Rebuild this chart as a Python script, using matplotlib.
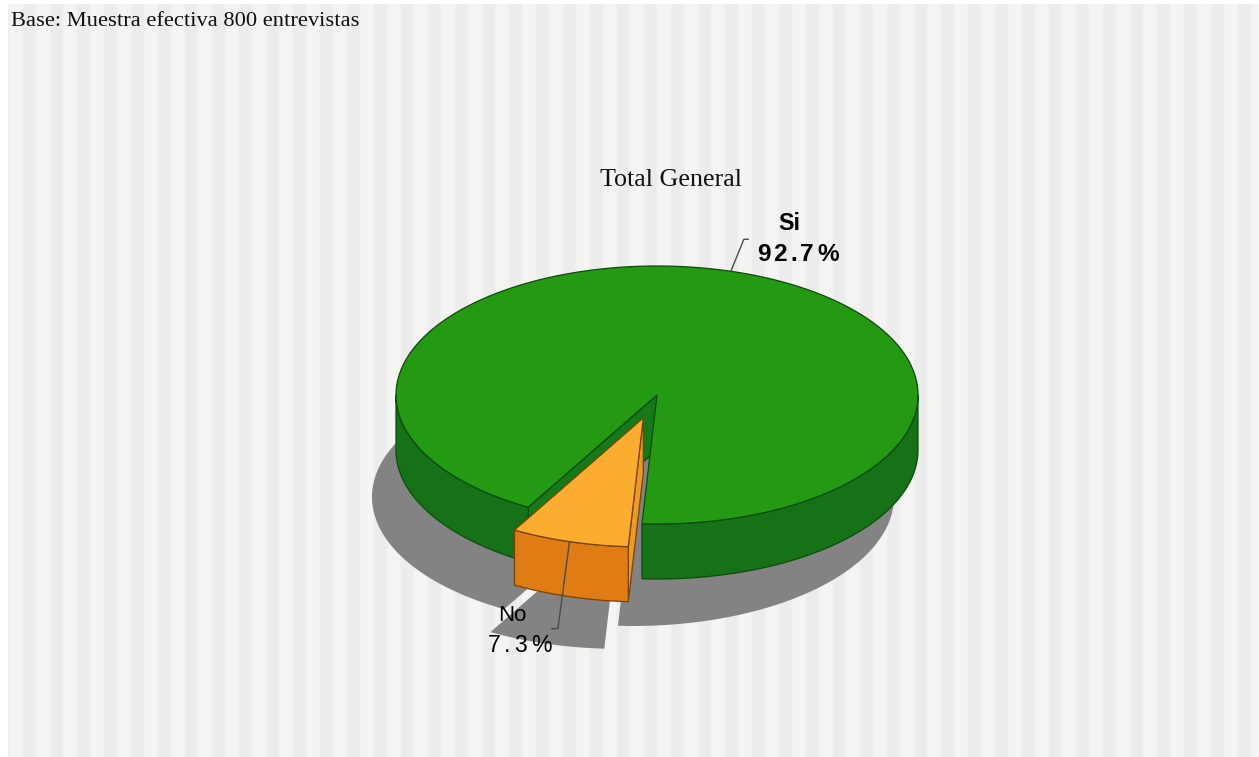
import numpy as np
import matplotlib
matplotlib.use("Agg")
import matplotlib.pyplot as plt
from matplotlib.patches import Polygon
from matplotlib.font_manager import FontProperties, findfont
from matplotlib import ft2font

# ---- data -------------------------------------------------------------
categories = ["Si", "No"]
percentages = [92.7, 7.3]
pct_labels = ["92.7%", "7.3%"]
chart_title = "Total General"
base_note = "Base: Muestra efectiva 800 entrevistas"

# ---- styling ----------------------------------------------------------
top_colors = ["#239a12", "#fbad30"]
side_colors = ["#167216", "#df7d14"]
face_colors = ["#157a17", "#ec9a22"]
edge_colors = ["#0b4c0b", "#7a4200"]
explode = [0.0, 0.185]
shadow_color = "#838383"

W, H = 1259, 757
fig = plt.figure(figsize=(W / 100, H / 100), dpi=100, facecolor="white")
ax = fig.add_axes([0, 0, 1, 1])
ax.set_xlim(0, W)
ax.set_ylim(H, 0)
ax.axis("off")

# ---- striped backdrop -------------------------------------------------
xs = np.arange(W) + 0.5
light = np.array([244, 244, 243]) / 255.0
dark = np.array([236, 236, 236]) / 255.0
phase = np.mod(xs - 23.0, 27.0)
mix = (phase < 13.5).astype(float)
kernel = np.ones(3) / 3.0
mix = np.convolve(mix, kernel, mode="same")
row = light[None, :] * (1 - mix[:, None]) + dark[None, :] * mix[:, None]
row[xs < 8] = 1.0
ax.imshow(row[None, :, :], extent=(0, W, H, 4), aspect="auto",
          interpolation="nearest", zorder=0)

# ---- 3D pie geometry --------------------------------------------------
CX, CY = 657.0, 395.0
RX, RY = 261.0, 129.0
DEPTH = 55.0
START = 266.7
SHADOW_DX, SHADOW_DY = -24.0, 47.0


def ell(theta, ox, oy, dz=0.0):
    t = np.radians(theta)
    return np.column_stack([ox + RX * np.cos(t), oy - RY * np.sin(t) + dz])


def arc(t1, t2, ox, oy, dz=0.0, n=None):
    if n is None:
        n = max(4, int(abs(t2 - t1) * 1.5))
    return ell(np.linspace(t1, t2, n), ox, oy, dz)


def wedge_poly(t1, t2, ox, oy, dz=0.0):
    return np.vstack([[ox, oy + dz], arc(t1, t2, ox, oy, dz)])


def side_poly(a, b, ox, oy):
    return np.vstack([arc(a, b, ox, oy), arc(b, a, ox, oy, DEPTH)])


def face_poly(t, ox, oy):
    p = ell(np.array([t]), ox, oy)[0]
    return np.array([[ox, oy], p, p + [0, DEPTH], [ox, oy + DEPTH]])


fractions = np.array(percentages) / np.sum(percentages)
bounds = START + 360.0 * np.concatenate([[0], np.cumsum(fractions)])
slices = []
for i in range(len(categories)):
    t1, t2 = bounds[i], bounds[i + 1]
    mid = np.radians((t1 + t2) / 2)
    ox = CX + RX * explode[i] * np.cos(mid)
    oy = CY - RY * explode[i] * np.sin(mid)
    slices.append((t1, t2, ox, oy))

# flat drop shadow of each slice's base
for t1, t2, ox, oy in slices:
    ax.add_patch(Polygon(wedge_poly(t1, t2, ox + SHADOW_DX,
                                    oy + SHADOW_DY, DEPTH),
                         closed=True, facecolor=shadow_color,
                         edgecolor="none", zorder=1))


def front_ranges(t1, t2):
    out = []
    k0 = int(np.floor(t1 / 360.0)) - 1
    for k in range(k0, k0 + 4):
        a, b = max(t1, 180 + 360 * k), min(t2, 360 + 360 * k)
        if b > a:
            out.append((a, b))
    return out


for i, (t1, t2, ox, oy) in enumerate(slices):
    ec = edge_colors[i]
    # cut faces that face the viewer
    if np.cos(np.radians(t2)) < 0:
        ax.add_patch(Polygon(face_poly(t2, ox, oy), closed=True,
                             facecolor=face_colors[i], edgecolor=ec,
                             lw=0.9, zorder=2))
    if np.cos(np.radians(t1)) > 0:
        ax.add_patch(Polygon(face_poly(t1, ox, oy), closed=True,
                             facecolor=face_colors[i], edgecolor=ec,
                             lw=0.9, zorder=2))
    # outer wall
    for a, b in front_ranges(t1, t2):
        ax.add_patch(Polygon(side_poly(a, b, ox, oy), closed=True,
                             facecolor=side_colors[i], edgecolor=ec,
                             lw=0.9, zorder=2))
    # top face
    ax.add_patch(Polygon(wedge_poly(t1, t2, ox, oy), closed=True,
                         facecolor=top_colors[i], edgecolor=ec,
                         lw=0.9, zorder=2))


# ---- labels -----------------------------------------------------------
def spaced_text(x, y, s, fp, spacing, color="black"):
    font = ft2font.FT2Font(findfont(fp))
    size_px = fp.get_size_in_points() * fig.dpi / 72.0
    font.set_size(size_px, 72)
    advs = [font.load_char(ord(c)).linearHoriAdvance / 65536.0 for c in s]
    total = sum(advs) + spacing * (len(s) - 1)
    cur = x - total / 2.0
    for c, a in zip(s, advs):
        ax.text(cur, y, c, fontproperties=fp, ha="left", va="baseline",
                color=color, zorder=5)
        cur += a + spacing


label_layout = [
    dict(corner=(13.0, -32.0), tick=5.0, name_xy=(59.0, -41.0),
         pct_xy=(67.0, -10.0), weight="bold", name_size=16.8,
         pct_size=17.6, spacing=3.2),
    dict(corner=(-11.5, 87.0), tick=-7.0, name_xy=(-57.0, 79.0),
         pct_xy=(-50.0, 110.0), weight="normal", name_size=16.0,
         pct_size=16.6, spacing=3.8),
]

for i, (t1, t2, ox, oy) in enumerate(slices):
    lay = label_layout[i]
    anchor = ell(np.array([(t1 + t2) / 2]), ox, oy)[0]
    corner = anchor + np.array(lay["corner"])
    tick_end = corner + np.array([lay["tick"], 0.0])
    ax.plot([anchor[0], corner[0], tick_end[0]],
            [anchor[1], corner[1], tick_end[1]],
            color="#4a4a4a", lw=1.0, zorder=4, solid_capstyle="butt")
    fp_name = FontProperties(family="Liberation Sans", weight=lay["weight"],
                             size=lay["name_size"])
    fp_pct = FontProperties(family="Liberation Sans", weight=lay["weight"],
                            size=lay["pct_size"])
    ax.text(anchor[0] + lay["name_xy"][0], anchor[1] + lay["name_xy"][1],
            categories[i], fontproperties=fp_name, ha="center",
            va="baseline", color="black", zorder=5)
    spaced_text(anchor[0] + lay["pct_xy"][0], anchor[1] + lay["pct_xy"][1],
                pct_labels[i], fp_pct, lay["spacing"])

ax.text(671, 186, chart_title, family="Liberation Serif", fontsize=18.7,
        ha="center", va="baseline", color="#111111", zorder=5)
ax.text(11, 26, base_note, family="Liberation Serif", fontsize=16.2,
        ha="left", va="baseline", color="#111111", zorder=5)

fig.savefig("out.png", dpi=100, facecolor="white")
